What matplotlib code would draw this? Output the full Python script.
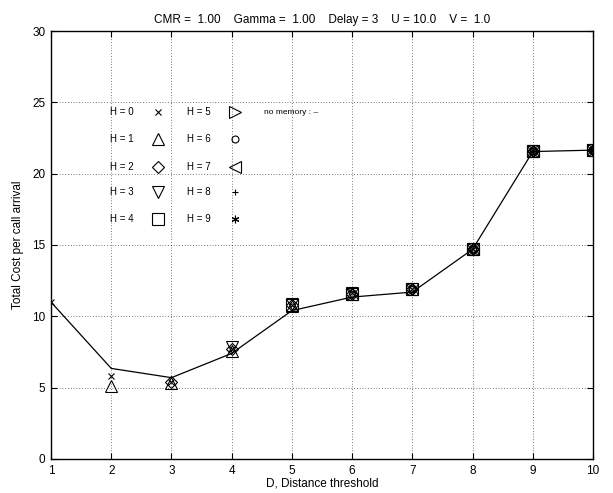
import matplotlib
matplotlib.use("Agg")
import matplotlib.pyplot as plt

plt.rcParams['font.family'] = ['Liberation Sans', 'DejaVu Sans']

D = [1, 2, 3, 4, 5, 6, 7, 8, 9, 10]
no_memory = [11.0, 6.35, 5.7, 7.4, 10.4, 11.35, 11.7, 14.7, 21.55, 21.65]

# cost per H; series for H starts at D = H + 1
H_values = {
    0: [11.0, 5.8, 5.4, 7.7, 10.8, 11.6, 11.9, 14.75, 21.6, 21.65],
    1: [5.1, 5.35, 7.55, 10.75, 11.55, 11.9, 14.75, 21.6, 21.65],
    2: [5.4, 7.7, 10.8, 11.55, 11.9, 14.75, 21.6, 21.65],
    3: [7.85, 10.85, 11.6, 11.9, 14.75, 21.6, 21.65],
    4: [10.8, 11.55, 11.9, 14.75, 21.6, 21.65],
    5: [11.55, 11.9, 14.75, 21.6, 21.65],
    6: [11.9, 14.75, 21.6, 21.65],
    7: [14.75, 21.6, 21.65],
    8: [21.6, 21.65],
    9: [21.65],
}
H_labels = ["H = 0", "H = 1", "H = 2", "H = 3", "H = 4",
            "H = 5", "H = 6", "H = 7", "H = 8", "H = 9"]
markers = ['x', '^', 'D', 'v', 's', '>', 'o', '<', '+', (6, 2, 0)]
msizes = [4, 9, 6.5, 9, 9, 9, 5, 9, 5, 5.5]

title = "CMR =  1.00    Gamma =  1.00    Delay = 3    U = 10.0    V =  1.0"

fig = plt.figure(figsize=(6.13, 4.93), dpi=100)
ax = fig.add_axes([0.0832, 0.069, 0.8842, 0.8681])

ax.plot(D, no_memory, color='black', lw=0.9, zorder=3)

for h in range(10):
    xs = D[h:]
    ax.plot(xs, H_values[h], linestyle='none', marker=markers[h],
            markersize=msizes[h], markerfacecolor='none',
            markeredgecolor='black', markeredgewidth=0.8, zorder=4)

# legend drawn as text and markers in data coordinates
rows = [24.3, 22.4, 20.5, 18.7, 16.8]
for h in range(10):
    col = h // 5
    r = rows[h % 5]
    tx = 1.98 if col == 0 else 3.26
    mx = 2.78 if col == 0 else 4.06
    ax.text(tx, r, H_labels[h], fontsize=7, va='center', ha='left')
    ax.plot([mx], [r], linestyle='none', marker=markers[h],
            markersize=msizes[h], markerfacecolor='none',
            markeredgecolor='black', markeredgewidth=0.8)
ax.text(4.54, rows[0], "no memory : \u2013", fontsize=6, va='center', ha='left')

ax.set_xlim(1, 10)
ax.set_ylim(0, 30)
ax.set_xticks(D)
ax.set_yticks([0, 5, 10, 15, 20, 25, 30])
ax.grid(True, color='black', linestyle=(0, (1, 3)), linewidth=0.5)
ax.tick_params(direction='in', top=True, right=True, length=4, width=0.8,
               labelsize=8.5, pad=4)
for s in ax.spines.values():
    s.set_linewidth(1.0)

ax.set_title(title, fontsize=8.5, pad=6)
ax.set_xlabel("D, Distance threshold", fontsize=8.5, labelpad=1)
ax.set_ylabel("Total Cost per call arrival", fontsize=8.5, labelpad=6)

fig.savefig("out.png", dpi=100)
